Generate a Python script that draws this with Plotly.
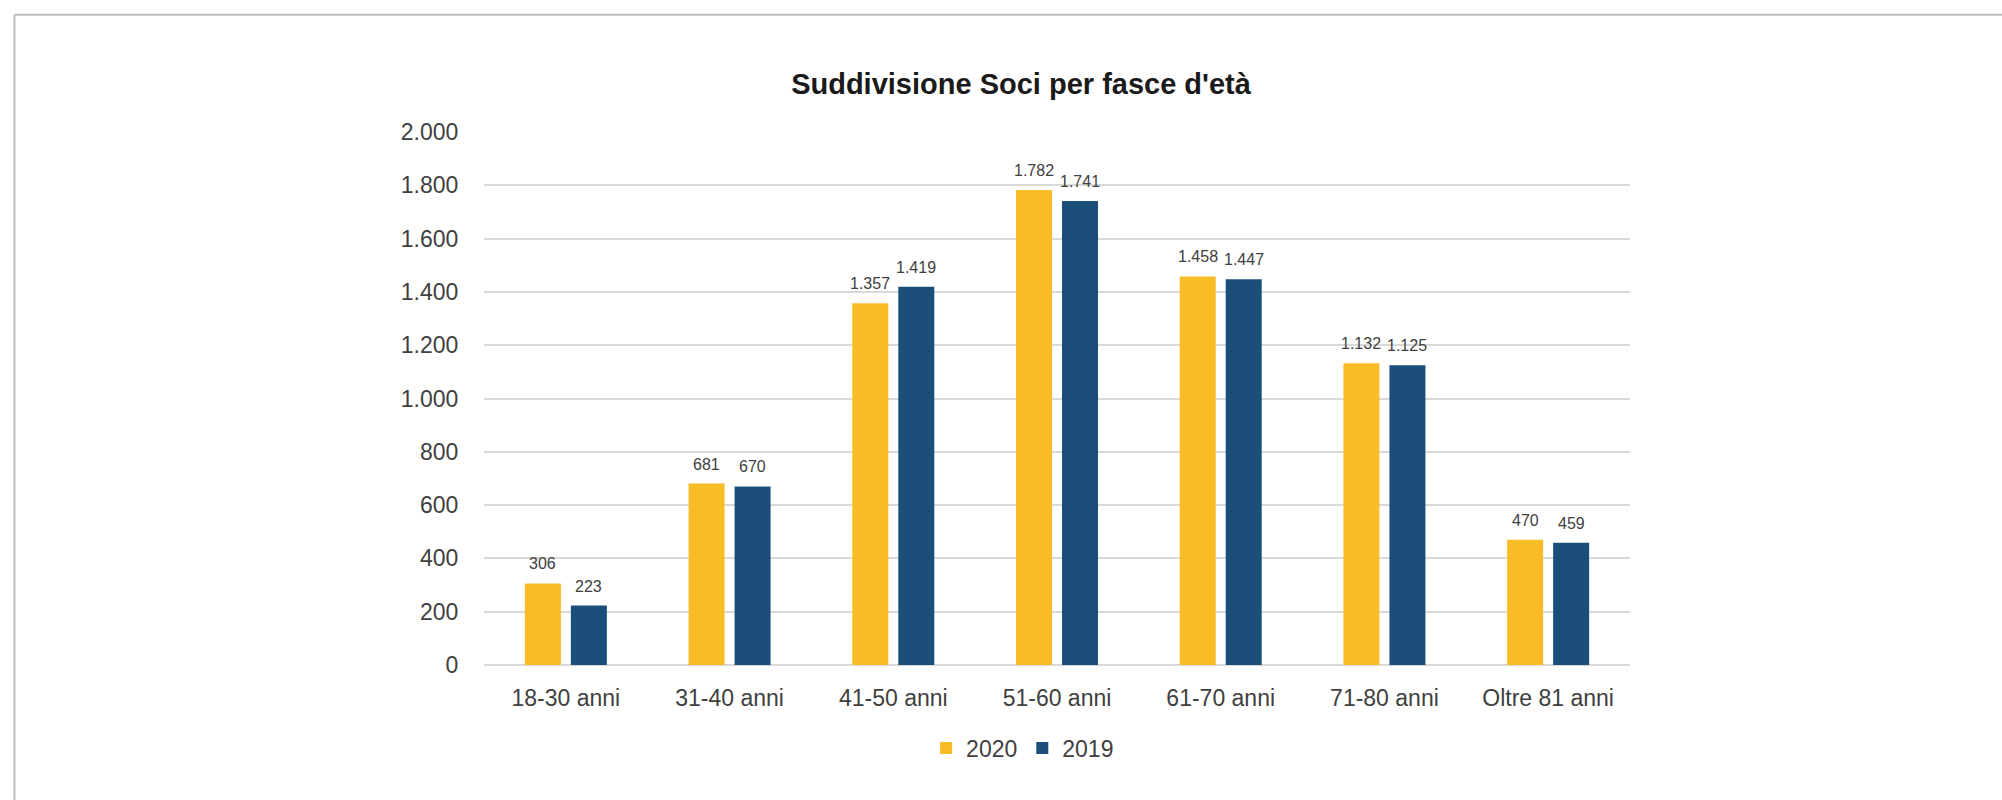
import plotly.graph_objects as go

# Age bands and member counts per year
categories = ["18-30 anni", "31-40 anni", "41-50 anni", "51-60 anni",
              "61-70 anni", "71-80 anni", "Oltre 81 anni"]
soci_2020 = [306, 681, 1357, 1782, 1458, 1132, 470]
soci_2019 = [223, 670, 1419, 1741, 1447, 1125, 459]
y_ticks = [0, 200, 400, 600, 800, 1000, 1200, 1400, 1600, 1800, 2000]

YELLOW = "#F8BC26"
BLUE = "#1B4F7A"
FONT = "Liberation Sans, Arial, sans-serif"
TEXT = "#404040"


def it_num(v):
    # Italian thousands separator
    return f"{v:,}".replace(",", ".")


fig = go.Figure()
fig.add_trace(go.Bar(name="2020", x=categories, y=soci_2020,
                     marker=dict(color=YELLOW, line=dict(width=0))))
fig.add_trace(go.Bar(name="2019", x=categories, y=soci_2019,
                     marker=dict(color=BLUE, line=dict(width=0))))

# value labels above each bar
annotations = []
for series, shift in ((soci_2020, -23), (soci_2019, 23)):
    for cat, val in zip(categories, series):
        annotations.append(dict(
            x=cat, y=val, xref="x", yref="y", text=it_num(val),
            showarrow=False, xshift=shift, yshift=9, yanchor="bottom",
            font=dict(family=FONT, size=16, color=TEXT)))

fig.update_layout(
    width=2002, height=800,
    margin=dict(l=484, r=372, t=132, b=135),
    paper_bgcolor="white", plot_bgcolor="white",
    separators=",.",
    barmode="group", bargap=0.438, bargroupgap=0.217,
    title=dict(text="<b>Suddivisione Soci per fasce d'età</b>",
               x=0.51, xref="container", xanchor="center",
               y=0.895, yref="container", yanchor="middle",
               font=dict(family=FONT, size=29, color="#1a1a1a")),
    xaxis=dict(showgrid=False, showline=False, zeroline=False,
               ticks="outside", ticklen=12, tickcolor="rgba(0,0,0,0)",
               tickfont=dict(family=FONT, size=23, color=TEXT)),
    yaxis=dict(range=[0, 2000], tickvals=y_ticks,
               ticktext=[it_num(v) for v in y_ticks],
               showgrid=True, gridcolor="#d9d9d9", gridwidth=1.5,
               zeroline=True, zerolinecolor="#d9d9d9", zerolinewidth=1.5,
               showline=False,
               ticks="outside", ticklen=20, tickcolor="rgba(0,0,0,0)",
               tickfont=dict(family=FONT, size=23, color=TEXT)),
    legend=dict(orientation="h", x=0.470, xanchor="center",
                y=-0.156, yanchor="middle",
                font=dict(family=FONT, size=23, color=TEXT),
                itemwidth=30, traceorder="normal"),
    annotations=annotations,
    shapes=[
        dict(type="line", xref="paper", yref="paper",
             x0=-0.4097, x1=1.35, y0=1.2202, y1=1.2202,
             line=dict(color="#bdbdbd", width=2)),
        dict(type="line", xref="paper", yref="paper",
             x0=-0.4097, x1=-0.4097, y0=1.2202, y1=-0.26,
             line=dict(color="#bdbdbd", width=2)),
    ],
)

fig.write_html("out.html")
